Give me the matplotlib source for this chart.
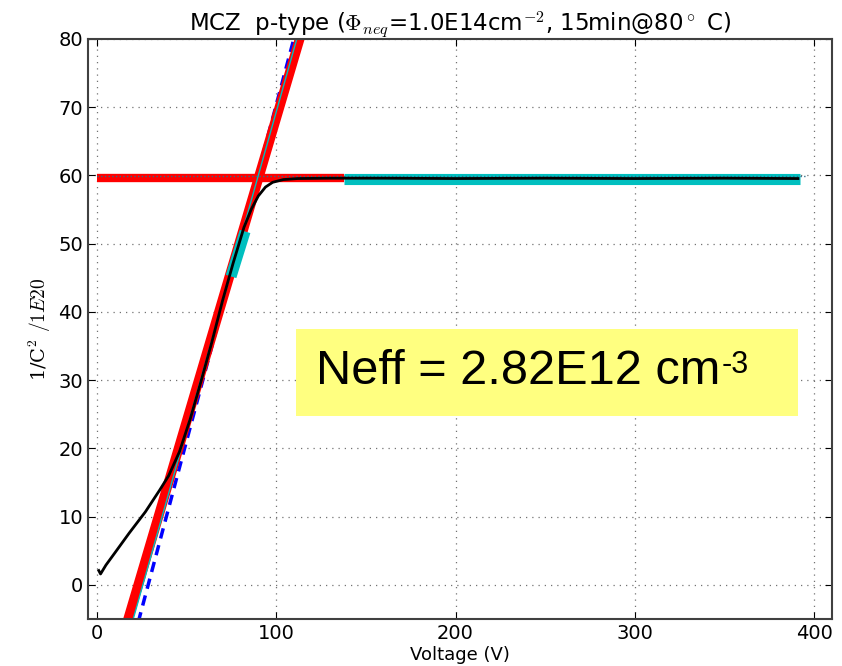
import matplotlib
matplotlib.use("Agg")
import matplotlib.pyplot as plt
from matplotlib.patches import Rectangle

plt.rcParams["mathtext.fontset"] = "cm"

# measured 1/C^2 curve (units of 1E20)
volt = [1, 2, 5, 10, 18, 27, 35, 40, 46, 52, 58, 64, 70, 76, 82, 86, 90, 94, 98, 104, 112, 130,
        160, 200, 250, 300, 350, 391]
inv_c2 = [2.1, 1.6, 2.9, 4.7, 7.6, 10.7, 13.9, 16.0, 19.5, 24.3, 29.8, 35.5, 41.6, 47.2, 52.4,
          55.0, 57.0, 58.3, 59.0, 59.4, 59.55, 59.6, 59.6, 59.55, 59.6, 59.55, 59.6, 59.55]

# fit lines (end points)
rise_x = [12, 118]
rise_y = [-9.8, 84.4]
rise2_x = [14, 118]
rise2_y = [-10.8, 86.1]
tangent_x = [18, 116]
tangent_y = [-10.4, 86.1]
flat_x = [0, 138]
flat_y = [59.7, 59.7]
flat2_x = [0, 395]
flat2_y = [59.95, 59.95]

# fit ranges
rise_range_x = [74.8, 82.6]
rise_range_y = [45.2, 51.8]
flat_range_x = [138, 392]
flat_range_y = [59.55, 59.55]

W, H = 842, 666
fig = plt.figure(figsize=(W / 100, H / 100), dpi=100)
ax = fig.add_axes([88 / W, 1 - 619 / H, (832 - 88) / W, (619 - 39) / H])

ax.plot(tangent_x, tangent_y, color="b", lw=2.5, ls="--", dashes=(3, 2))
ax.plot(rise_x, rise_y, color="r", lw=7, solid_capstyle="butt")
ax.plot(flat_x, flat_y, color="r", lw=6, solid_capstyle="butt")
ax.plot(rise2_x, rise2_y, color="#00bfbf", lw=1)
ax.plot(flat_range_x, flat_range_y, color="#00bfbf", lw=8, solid_capstyle="butt")
ax.plot(rise_range_x, rise_range_y, color="#00bfbf", lw=8, solid_capstyle="butt")
ax.plot(flat2_x, flat2_y, color="#2a6f8a", lw=1, ls=":")
ax.plot(volt, inv_c2, color="k", lw=2)

ax.set_xlim(-5, 410)
ax.set_ylim(-5, 80)
ax.set_xticks([0, 100, 200, 300, 400])
ax.set_yticks(range(0, 81, 10))
ax.grid(True, color="0.45", ls=(0, (1, 4)), lw=0.9)
ax.tick_params(direction="in", top=True, right=True, length=5, labelsize=14)
for s in ax.spines.values():
    s.set_linewidth(1.5)
    s.set_color("0.25")

ax.set_title(r"MCZ  p-type ($\Phi_{neq}$=1.0E14cm$^{-2}$, 15min@80$^\circ$ C)", fontsize=16.5,
             pad=5)
ax.set_xlabel("Voltage (V)", fontsize=13, labelpad=2)
ax.set_ylabel(r"1/C$^2$ $/1E20$", fontsize=14, family="DejaVu Serif", labelpad=4)

# annotation box
fig.patches.append(Rectangle((296 / W, 1 - 416 / H), (798 - 296) / W, (416 - 329) / H,
                             transform=fig.transFigure, facecolor="#ffff80", edgecolor="none",
                             zorder=5))
t = fig.text(316 / W, 1 - 384 / H, "Neff = 2.82E12 cm", fontsize=35,
             family="Liberation Sans", va="baseline", zorder=6)
fig.canvas.draw()
bb = t.get_window_extent()
fig.text((bb.x1 + 1) / W, 1 - 350 / H, "-3", fontsize=22, family="Liberation Sans",
         va="top", zorder=6)

fig.savefig("out.png", dpi=100)
